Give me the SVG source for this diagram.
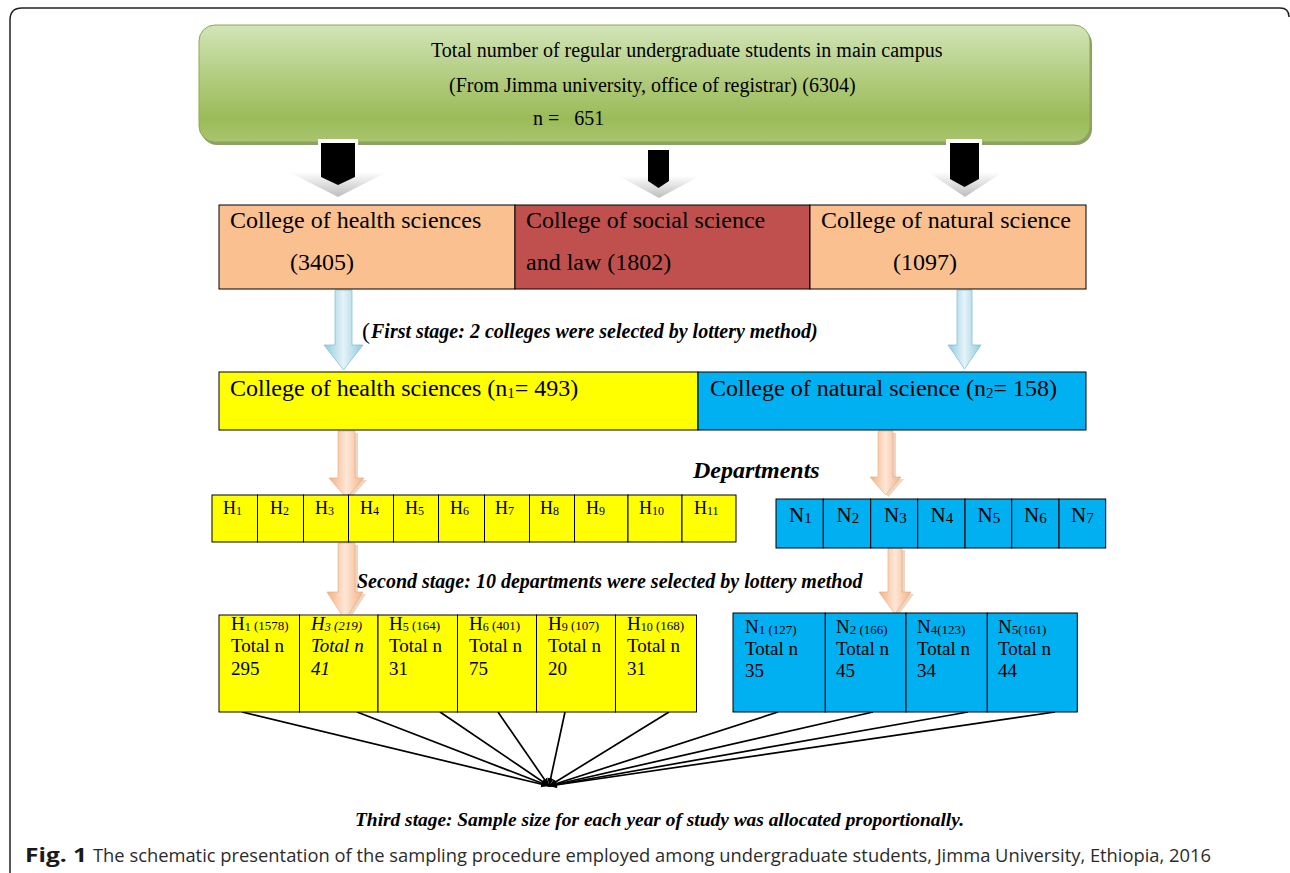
<svg xmlns="http://www.w3.org/2000/svg" width="1290" height="873" viewBox="0 0 1290 873">
<defs>
<linearGradient id="gGreen" x1="0" y1="0" x2="0" y2="1">
<stop offset="0" stop-color="#d3e5b9"/>
<stop offset="0.45" stop-color="#b1cc7e"/>
<stop offset="0.8" stop-color="#9bbb59"/>
<stop offset="1" stop-color="#a9c56f"/>
</linearGradient>
<linearGradient id="gChev" x1="0" y1="0" x2="0" y2="1">
<stop offset="0" stop-color="#ffffff"/>
<stop offset="1" stop-color="#bdbdbd"/>
</linearGradient>
<linearGradient id="gBlue" x1="0" y1="0" x2="1" y2="0">
<stop offset="0" stop-color="#8fcbdc"/>
<stop offset="0.5" stop-color="#e4f3f8"/>
<stop offset="1" stop-color="#8fcbdc"/>
</linearGradient>
<linearGradient id="gOrange" x1="0" y1="0" x2="1" y2="0">
<stop offset="0" stop-color="#f4b183"/>
<stop offset="0.5" stop-color="#fde7d7"/>
<stop offset="1" stop-color="#f4b183"/>
</linearGradient>
<marker id="ah" viewBox="0 0 10 10" refX="10" refY="5" markerWidth="8" markerHeight="8" orient="auto" markerUnits="userSpaceOnUse">
<path d="M0,1 L10,5 L0,9 z" fill="#000"/>
</marker>
<style>
.serif{font-family:"Liberation Serif","Times New Roman",serif;fill:#000}
.bi{font-family:"Liberation Serif","Times New Roman",serif;font-weight:bold;font-style:italic;fill:#000}
.box{stroke:#000;stroke-width:1}
.peach{fill:#fac090}
.yel{fill:#ffff00}
.cyan{fill:#00b0f0}
.conn{stroke:#000;stroke-width:1.7;fill:none}
.barrow{fill:url(#gBlue);stroke:#86c1d4;stroke-width:0.8}
.oarrow{fill:url(#gOrange);stroke:#eaa877;stroke-width:0.6}
.oshadow{fill:#c98a5c;opacity:0.35}
.cap{font-family:"Open Sans","Noto Sans",sans-serif;font-size:19px}
</style>
</defs>
<rect width="1290" height="873" fill="#ffffff"/>
<path d="M10,873 V20 Q10,8 22,8 H1280 Q1289,8 1289,17" fill="none" stroke="#222" stroke-width="1.5"/>

<g id="top-box">
<rect x="201" y="28" width="891" height="117" rx="16" fill="#5f7530" opacity="0.7"/>
<rect x="199" y="25" width="891" height="117" rx="16" fill="url(#gGreen)" stroke="#8aab4c" stroke-width="1"/>
<text class="serif" x="431" y="57" font-size="20">Total number of regular undergraduate students in main campus</text>
<text class="serif" x="449" y="92" font-size="20">(From Jimma university, office of registrar) (6304)</text>
<text class="serif" x="533" y="125" font-size="20" xml:space="preserve">n =   651</text>
</g>

<g id="connectors">
<g id="black-arrows">
<polygon points="289,172 387,172 338,197" fill="url(#gChev)"/>
<rect x="318" y="139" width="40" height="10" fill="#ffffff"/>
<polygon points="321,143 355,143 355,177 338,185 321,177" fill="#000"/>
<polygon points="619,176 700,176 659,198" fill="url(#gChev)"/>
<rect x="645" y="146" width="26" height="8" fill="#ffffff"/>
<polygon points="648,150 669,150 669,181 658.5,188 648,181" fill="#000"/>
<polygon points="928,172 1003,172 965,197" fill="url(#gChev)"/>
<rect x="946" y="139" width="36" height="10" fill="#ffffff"/>
<polygon points="950,143 979,143 979,179 964.5,187 950,179" fill="#000"/>
</g>
<g id="blue-arrows">
<path class="barrow" d="M335,290 H352 V345 H363 L343.5,370 L324,345 H335 Z"/>
<path class="barrow" d="M957,290 H972 V345 H981 L964.5,369 L948,345 H957 Z"/>
</g>
<g id="orange-arrows">
<path class="oshadow" d="M341,433 H358 V480 H367 L349.5,500 L332,480 H341 Z"/>
<path class="oarrow" d="M338,431 H355 V478 H364 L346.5,498 L329,478 H338 Z"/>
<path class="oshadow" d="M881,433 H896 V479 H904 L888.5,497 L873,479 H881 Z"/>
<path class="oarrow" d="M878,431 H893 V477 H901 L885.5,495 L870,477 H878 Z"/>
<path class="oshadow" d="M341,545 H358 V594 H366 L348,622 L330,594 H341 Z"/>
<path class="oarrow" d="M338,543 H355 V592 H363 L345,620 L327,592 H338 Z"/>
<path class="oshadow" d="M891,550 H905 V594 H914 L898,616 L882,594 H891 Z"/>
<path class="oarrow" d="M888,548 H902 V592 H911 L895,614 L879,592 H888 Z"/>
</g>
<g id="converging-lines">
<line class="conn" x1="242" y1="712" x2="549" y2="786" marker-end="url(#ah)"/>
<line class="conn" x1="357" y1="712" x2="549" y2="786" marker-end="url(#ah)"/>
<line class="conn" x1="440" y1="712" x2="549" y2="786" marker-end="url(#ah)"/>
<line class="conn" x1="498" y1="712" x2="549" y2="786" marker-end="url(#ah)"/>
<line class="conn" x1="565" y1="712" x2="549" y2="786" marker-end="url(#ah)"/>
<line class="conn" x1="669" y1="712" x2="549" y2="786" marker-end="url(#ah)"/>
<line class="conn" x1="778" y1="712" x2="549" y2="786" marker-end="url(#ah)"/>
<line class="conn" x1="873" y1="712" x2="549" y2="786" marker-end="url(#ah)"/>
<line class="conn" x1="968" y1="712" x2="549" y2="786" marker-end="url(#ah)"/>
<line class="conn" x1="1055" y1="712" x2="549" y2="786" marker-end="url(#ah)"/>
</g>
</g>

<g id="colleges">
<g id="college-health">
<rect class="box peach" x="219" y="205" width="296" height="84"/>
<text class="serif" x="230" y="228" font-size="24">College of health sciences</text>
<text class="serif" x="290" y="270" font-size="24">(3405)</text>
</g>
<g id="college-social">
<rect class="box" fill="#c0504d" x="515" y="205" width="295" height="84"/>
<text class="serif" x="526" y="228" font-size="24">College of social science</text>
<text class="serif" x="526" y="270" font-size="24">and law (1802)</text>
</g>
<g id="college-natural">
<rect class="box peach" x="810" y="205" width="276" height="84"/>
<text class="serif" x="821" y="228" font-size="24">College of natural science</text>
<text class="serif" x="893" y="270" font-size="24">(1097)</text>
</g>
</g>

<g id="first-stage-label">
<text class="serif" x="362" y="339" font-size="24">(</text>
<text class="bi" x="371" y="338" font-size="20">First stage: 2 colleges were selected by lottery method)</text>
</g>

<g id="selected-health">
<rect class="box yel" x="219" y="372" width="479" height="58"/>
<text class="serif" x="230" y="396" font-size="24">College of health sciences (n<tspan font-size="15" dy="2">1</tspan><tspan dy="-2">= 493)</tspan></text>
</g>
<g id="selected-natural">
<rect class="box cyan" x="698" y="372" width="388" height="58"/>
<text class="serif" x="710" y="396" font-size="24">College of natural science (n<tspan font-size="15" dy="2">2</tspan><tspan dy="-2">= 158)</tspan></text>
</g>

<g id="departments-label">
<text class="bi" x="693" y="478" font-size="24">Departments</text>
</g>

<g id="health-departments">
<rect class="box yel" x="212" y="495" width="45.5" height="47"/>
<rect class="box yel" x="257.5" y="495" width="46" height="47"/>
<rect class="box yel" x="303.5" y="495" width="45" height="47"/>
<rect class="box yel" x="348.5" y="495" width="45" height="47"/>
<rect class="box yel" x="393.5" y="495" width="45" height="47"/>
<rect class="box yel" x="438.5" y="495" width="46" height="47"/>
<rect class="box yel" x="484.5" y="495" width="45" height="47"/>
<rect class="box yel" x="529.5" y="495" width="45" height="47"/>
<rect class="box yel" x="574.5" y="495" width="53.5" height="47"/>
<rect class="box yel" x="628" y="495" width="54" height="47"/>
<rect class="box yel" x="682" y="495" width="54" height="47"/>
<g class="serif" font-size="18">
<text x="223" y="514">H<tspan font-size="12" dy="1">1</tspan></text>
<text x="270" y="514">H<tspan font-size="12" dy="1">2</tspan></text>
<text x="315" y="514">H<tspan font-size="12" dy="1">3</tspan></text>
<text x="360" y="514">H<tspan font-size="12" dy="1">4</tspan></text>
<text x="405" y="514">H<tspan font-size="12" dy="1">5</tspan></text>
<text x="450" y="514">H<tspan font-size="12" dy="1">6</tspan></text>
<text x="495" y="514">H<tspan font-size="12" dy="1">7</tspan></text>
<text x="540" y="514">H<tspan font-size="12" dy="1">8</tspan></text>
<text x="586" y="514">H<tspan font-size="12" dy="1">9</tspan></text>
<text x="639" y="514">H<tspan font-size="12" dy="1">10</tspan></text>
<text x="694" y="514">H<tspan font-size="12" dy="1">11</tspan></text>
</g>
</g>

<g id="natural-departments">
<rect class="box cyan" x="776" y="499" width="47.3" height="49"/>
<rect class="box cyan" x="823.3" y="499" width="47.4" height="49"/>
<rect class="box cyan" x="870.7" y="499" width="47" height="49"/>
<rect class="box cyan" x="917.7" y="499" width="47.3" height="49"/>
<rect class="box cyan" x="965" y="499" width="46.7" height="49"/>
<rect class="box cyan" x="1011.7" y="499" width="47.3" height="49"/>
<rect class="box cyan" x="1059" y="499" width="46.7" height="49"/>
<g class="serif" font-size="21">
<text x="789" y="522">N<tspan font-size="15" dy="1">1</tspan></text>
<text x="836.5" y="522">N<tspan font-size="15" dy="1">2</tspan></text>
<text x="884" y="522">N<tspan font-size="15" dy="1">3</tspan></text>
<text x="930.5" y="522">N<tspan font-size="15" dy="1">4</tspan></text>
<text x="977.5" y="522">N<tspan font-size="15" dy="1">5</tspan></text>
<text x="1024" y="522">N<tspan font-size="15" dy="1">6</tspan></text>
<text x="1071" y="522">N<tspan font-size="15" dy="1">7</tspan></text>
</g>
</g>

<g id="second-stage-label">
<text class="bi" x="357" y="588" font-size="20">Second stage: 10 departments were selected by lottery method</text>
</g>

<g id="health-samples">
<rect class="box yel" x="219" y="615" width="80.5" height="97"/>
<rect class="box yel" x="299.5" y="615" width="78.5" height="97"/>
<line x1="300" y1="615" x2="378" y2="615" stroke="#8c8c8c" stroke-width="1.5"/>
<rect class="box yel" x="378" y="615" width="79.5" height="97"/>
<rect class="box yel" x="457.5" y="615" width="79" height="97"/>
<rect class="box yel" x="536.5" y="615" width="79" height="97"/>
<rect class="box yel" x="615.5" y="615" width="81" height="97"/>
<g class="serif" font-size="19">
<text x="231" y="630">H<tspan font-size="12" dy="1">1</tspan><tspan font-size="13" dy="-1"> (1578)</tspan></text>
<text x="231" y="652">Total n</text>
<text x="231" y="675">295</text>
<text x="311" y="630" font-style="italic">H<tspan font-size="12" dy="1">3</tspan><tspan font-size="13" dy="-1"> (219)</tspan></text>
<text x="311" y="652" font-style="italic">Total n</text>
<text x="311" y="675" font-style="italic">41</text>
<text x="389" y="630">H<tspan font-size="12" dy="1">5</tspan><tspan font-size="13" dy="-1"> (164)</tspan></text>
<text x="389" y="652">Total n</text>
<text x="389" y="675">31</text>
<text x="469" y="630">H<tspan font-size="12" dy="1">6</tspan><tspan font-size="13" dy="-1"> (401)</tspan></text>
<text x="469" y="652">Total n</text>
<text x="469" y="675">75</text>
<text x="548" y="630">H<tspan font-size="12" dy="1">9</tspan><tspan font-size="13" dy="-1"> (107)</tspan></text>
<text x="548" y="652">Total n</text>
<text x="548" y="675">20</text>
<text x="627" y="630">H<tspan font-size="12" dy="1">10</tspan><tspan font-size="13" dy="-1"> (168)</tspan></text>
<text x="627" y="652">Total n</text>
<text x="627" y="675">31</text>
</g>
</g>

<g id="natural-samples">
<rect class="box cyan" x="733" y="613" width="92.3" height="99"/>
<rect class="box cyan" x="825.3" y="613" width="80.7" height="99"/>
<rect class="box cyan" x="906" y="613" width="81.3" height="99"/>
<rect class="box cyan" x="987.3" y="613" width="90" height="99"/>
<g class="serif" font-size="19">
<text x="745" y="633">N<tspan font-size="13" dy="1">1</tspan><tspan font-size="13"> (127)</tspan></text>
<text x="745" y="655">Total n</text>
<text x="745" y="677">35</text>
<text x="836" y="633">N<tspan font-size="13" dy="1">2</tspan><tspan font-size="13"> (166)</tspan></text>
<text x="836" y="655">Total n</text>
<text x="836" y="677">45</text>
<text x="917" y="633">N<tspan font-size="13" dy="1">4(123)</tspan></text>
<text x="917" y="655">Total n</text>
<text x="917" y="677">34</text>
<text x="998" y="633">N<tspan font-size="13" dy="1">5(161)</tspan></text>
<text x="998" y="655">Total n</text>
<text x="998" y="677">44</text>
</g>
</g>

<g id="third-stage-label">
<text class="bi" x="355" y="826" font-size="19.4">Third stage: Sample size for each year of study was allocated proportionally.</text>
</g>

<g id="caption">
<text class="cap" x="25" y="862" font-weight="bold" fill="#1a1a1a" textLength="62" lengthAdjust="spacingAndGlyphs">Fig. 1</text>
<text class="cap" x="93" y="862" fill="#2b2b2b" textLength="1118" lengthAdjust="spacingAndGlyphs">The schematic presentation of the sampling procedure employed among undergraduate students, Jimma University, Ethiopia, 2016</text>
</g>
</svg>
